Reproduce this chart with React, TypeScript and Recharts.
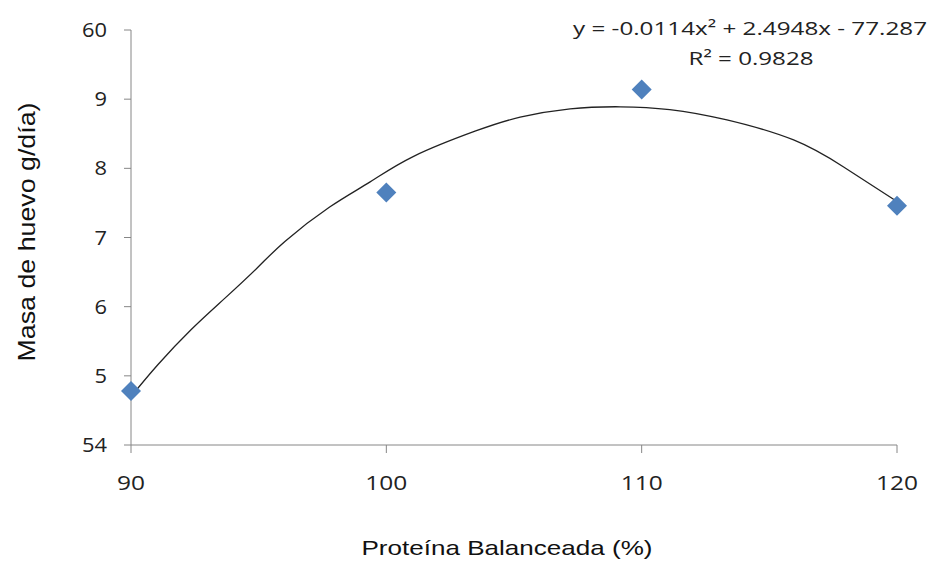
import { ComposedChart, Line, Scatter, XAxis, YAxis, Label } from "recharts";

// measured points: balanced protein (%) vs egg mass
const protein = [90, 100, 110, 120];
const eggMass = [54.78, 57.65, 59.14, 57.46];

// trend curve
const trendX = [90, 91.05, 92.36, 93.67, 94.97, 96.05, 97.78, 99.35, 101.05, 103.5, 105.24, 107.2, 109.16, 111.1, 113.34, 115.95, 117.91, 120];
const trendY = [54.7, 55.16, 55.67, 56.12, 56.57, 56.95, 57.44, 57.8, 58.17, 58.54, 58.74, 58.86, 58.89, 58.85, 58.7, 58.41, 58.02, 57.52];

const xTicks = [90, 100, 110, 120];
const yTicks = [54, 55, 56, 57, 58, 59, 60];
const yTickLabels = ["54", "5", "6", "7", "8", "9", "60"];

const points = protein.map((x, i) => ({ x, y: eggMass[i] }));
const trend = trendX.map((x, i) => ({ x, y: trendY[i] }));

const axisColor = "#868686";
const markerColor = "#4F81BD";
const tickFont = "'Open Sans', 'Noto Sans', sans-serif";
const titleFont = "'Liberation Sans', Arial, sans-serif";

const Diamond = (props: any) => {
  const { cx, cy } = props;
  if (cx == null || cy == null) return null;
  const r = 10;
  return (
    <polygon
      points={`${cx},${cy - r} ${cx + r},${cy} ${cx},${cy + r} ${cx - r},${cy}`}
      fill={markerColor}
    />
  );
};

const XTick = ({ x, y, payload }: any) => (
  <text
    x={x}
    y={y + 21}
    textAnchor="middle"
    fontFamily={tickFont}
    fontSize={20}
    fill="#222"
    textLength={String(payload.value).length * 14}
    lengthAdjust="spacingAndGlyphs"
  >
    {payload.value}
  </text>
);

const YTick = ({ x, y, payload }: any) => {
  const label = yTickLabels[yTicks.indexOf(payload.value)] ?? String(payload.value);
  return (
    <text
      x={x}
      y={y + 7}
      textAnchor="end"
      fontFamily={tickFont}
      fontSize={20}
      fill="#222"
      textLength={label.length * 12.5}
      lengthAdjust="spacingAndGlyphs"
    >
      {label}
    </text>
  );
};

export default function App() {
  return (
    <div style={{ position: "absolute", left: 0, top: 0, width: 931, height: 563, background: "#fff" }}>
      <ComposedChart
        width={931}
        height={563}
        margin={{ top: 30, right: 34, bottom: 0, left: 71 }}
      >
        <XAxis
          dataKey="x"
          type="number"
          domain={[90, 120]}
          ticks={xTicks}
          stroke={axisColor}
          tickSize={8}
          tickMargin={16}
          tick={<XTick />}
          height={118}
        >
          <Label
            content={() => (
              <text
                x={507}
                y={555}
                textAnchor="middle"
                fontFamily={titleFont}
                fontSize={21}
                fill="#111"
                textLength={291}
                lengthAdjust="spacingAndGlyphs"
              >
                Proteína Balanceada (%)
              </text>
            )}
          />
        </XAxis>
        <YAxis
          dataKey="y"
          type="number"
          domain={[54, 60]}
          ticks={yTicks}
          stroke={axisColor}
          tickSize={7}
          tickMargin={17}
          tick={<YTick />}
          width={60}
        >
          <Label
            content={() => (
              <text
                x={35}
                y={232}
                transform="rotate(-90 35 232)"
                textAnchor="middle"
                fontFamily={titleFont}
                fontSize={24}
                fill="#111"
                textLength={259}
                lengthAdjust="spacingAndGlyphs"
              >
                Masa de huevo g/día)
              </text>
            )}
          />
        </YAxis>
        <Line
          data={trend}
          dataKey="y"
          type="natural"
          stroke="#222"
          strokeWidth={1.3}
          dot={false}
          activeDot={false}
          isAnimationActive={false}
        />
        <Scatter data={points} dataKey="y" shape={<Diamond />} isAnimationActive={false} />
        <text x={750} y={35} textAnchor="middle" fontFamily={tickFont} fontSize={19} fill="#222" textLength={354} lengthAdjust="spacingAndGlyphs">
          y = -0.0114x² + 2.4948x - 77.287
        </text>
        <text x={751} y={65} textAnchor="middle" fontFamily={tickFont} fontSize={19} fill="#222" textLength={125} lengthAdjust="spacingAndGlyphs">
          R² = 0.9828
        </text>
      </ComposedChart>
    </div>
  );
}
